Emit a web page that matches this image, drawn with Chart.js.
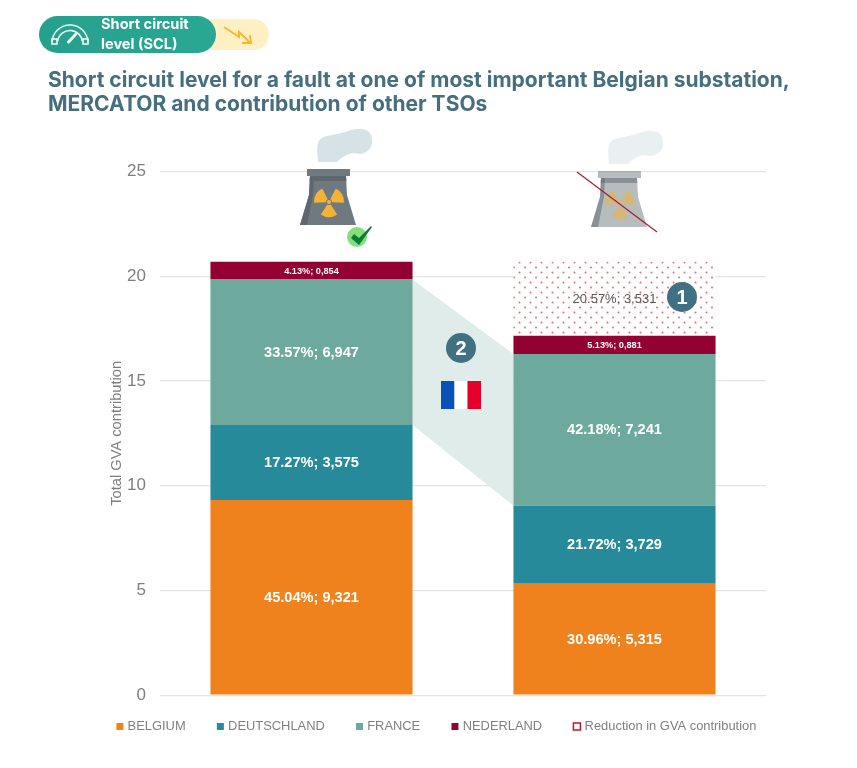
<!DOCTYPE html>
<html>
<head>
<meta charset="utf-8">
<style>html,body{margin:0;padding:0;background:#fff}canvas{display:block}</style>
<script src="https://cdn.jsdelivr.net/npm/chart.js@4/dist/chart.umd.min.js"></script>
</head>
<body>
<canvas id="c" width="857" height="768" style="width:857px;height:768px"></canvas>
<script>
const categories = ["With nuclear", "Without nuclear"];
const belgium = [9.321, 5.315];
const deutschland = [3.575, 3.729];
const france = [6.947, 7.241];
const nederland = [0.854, 0.881];
const reduction = [null, 3.531];
const belgiumPct = ["45.04", "30.96"];
const deutschlandPct = ["17.27", "21.72"];
const francePct = ["33.57", "42.18"];
const nederlandPct = ["4.13", "5.13"];
const reductionPct = [null, "20.57"];
const seriesNames = ["BELGIUM", "DEUTSCHLAND", "FRANCE", "NEDERLAND", "Reduction in GVA contribution"];
const yTicks = [0, 5, 10, 15, 20, 25];
const titleLines = ["Short circuit level for a fault at one of most important Belgian substation,", "MERCATOR and contribution of other TSOs"];

const GREY = "#7f7f7f";
const pctBySeries = [belgiumPct, deutschlandPct, francePct, nederlandPct, reductionPct];

function dotPattern() {
  const p = document.createElement("canvas");
  p.width = 11; p.height = 10;
  const x = p.getContext("2d");
  x.fillStyle = "#ffffff"; x.fillRect(0, 0, 11, 10);
  x.fillStyle = "#e06a80";
  [[2.5, 2.5], [8, 7.5]].forEach(d => { x.beginPath(); x.arc(d[0], d[1], 1.0, 0, 7); x.fill(); });
  return document.getElementById("c").getContext("2d").createPattern(p, "repeat");
}

function poly(ctx, pts, fill) {
  ctx.fillStyle = fill; ctx.beginPath();
  pts.forEach((p, i) => i ? ctx.lineTo(p[0], p[1]) : ctx.moveTo(p[0], p[1]));
  ctx.closePath(); ctx.fill();
}

function blob(ctx, pts, fill) {
  ctx.fillStyle = fill; ctx.beginPath();
  ctx.moveTo(pts[0][0], pts[0][1]);
  for (let i = 1; i < pts.length - 1; i++) {
    ctx.quadraticCurveTo(pts[i][0], pts[i][1], (pts[i][0] + pts[i + 1][0]) / 2, (pts[i][1] + pts[i + 1][1]) / 2);
  }
  ctx.lineTo(pts[pts.length - 1][0], pts[pts.length - 1][1]);
  ctx.closePath(); ctx.fill();
}

function drawPlant(ctx, dx, dy, alpha) {
  ctx.save(); ctx.translate(dx, dy); ctx.globalAlpha = alpha;
  // steam
  blob(ctx, [[318, 162], [316, 146], [321, 137], [333, 135], [345, 132], [358, 128], [371, 131], [373, 147], [362, 155], [353, 152], [342, 157], [337, 162]], "#d6e2e6");
  // tower
  poly(ctx, [[310, 176], [346, 176], [347, 195], [356, 225], [300, 225], [309, 195]], "#6f7a80");
  poly(ctx, [[310, 176], [314, 176], [313, 195], [307, 225], [300, 225], [309, 195]], "#5d676d");
  poly(ctx, [[310, 176], [346, 176], [346.5, 181], [309.5, 181]], "#5d676d");
  ctx.fillStyle = "#6f7a80"; ctx.fillRect(307, 169, 43, 7);
  // radiation sign
  const cx = 329, cy = 202;
  ctx.fillStyle = "#f5b335";
  [-150, -30, 90].forEach(a => {
    const r = a * Math.PI / 180, s = 0.58;
    ctx.beginPath(); ctx.moveTo(cx + 3 * Math.cos(r - s), cy + 3 * Math.sin(r - s));
    ctx.arc(cx, cy, 15, r - s, r + s);
    ctx.arc(cx, cy, 3, r + s, r - s, true); ctx.closePath(); ctx.fill();
  });
  ctx.beginPath(); ctx.arc(cx, cy, 2, 0, 7); ctx.fill();
  ctx.restore();
}

function drawBadge(ctx) {
  ctx.fillStyle = "#fff0c4";
  ctx.beginPath(); ctx.roundRect(190, 19, 79, 31, 15.5); ctx.fill();
  const g = ctx.createLinearGradient(39, 0, 216, 0);
  g.addColorStop(0, "#25a08d"); g.addColorStop(1, "#2aa893");
  ctx.fillStyle = g;
  ctx.beginPath(); ctx.roundRect(39, 16, 177, 37, 18.5); ctx.fill();
  // gauge icon
  ctx.strokeStyle = "#eef8f6"; ctx.lineWidth = 1.6;
  ctx.beginPath(); ctx.arc(70, 43, 18, Math.PI * 1.02, Math.PI * 1.98); ctx.stroke();
  ctx.beginPath(); ctx.arc(70, 43, 12.5, Math.PI * 1.05, Math.PI * 1.95); ctx.stroke();
  ctx.strokeRect(52, 39, 5, 5); ctx.strokeRect(83, 39, 5, 5);
  ctx.lineWidth = 3; ctx.lineCap = "round";
  ctx.beginPath(); ctx.moveTo(68.5, 42); ctx.lineTo(76.5, 33.5); ctx.stroke();
  ctx.lineCap = "butt";
  ctx.fillStyle = "#ffffff"; ctx.textAlign = "left"; ctx.textBaseline = "middle";
  ctx.font = "700 14.6px Inter, sans-serif";
  ctx.fillText("Short circuit", 101, 25);
  ctx.fillText("level (SCL)", 101, 45);
  // falling arrow
  ctx.strokeStyle = "#f9b62a"; ctx.lineWidth = 1.9;
  ctx.beginPath(); ctx.moveTo(224, 27); ctx.lineTo(239, 37); ctx.lineTo(239, 32); ctx.lineTo(250, 42.5); ctx.stroke();
  ctx.beginPath(); ctx.moveTo(242, 43); ctx.lineTo(251, 43); ctx.lineTo(250, 35); ctx.stroke();
}

function numberCircle(ctx, x, y, txt) {
  ctx.fillStyle = "#3f7182";
  ctx.beginPath(); ctx.arc(x, y, 15, 0, 7); ctx.fill();
  ctx.fillStyle = "#ffffff"; ctx.font = "700 20px 'Liberation Sans', sans-serif";
  ctx.textAlign = "center"; ctx.textBaseline = "middle";
  ctx.fillText(txt, x, y + 1);
}

const decorations = {
  id: "decorations",
  afterLayout(chart) {
    chart.legend.left += 30.5; chart.legend.right += 30.5;
    chart.legend.top -= 16.5; chart.legend.bottom -= 16.5;
    chart.titleBlock.right += 70;
  },
  beforeDatasetsDraw(chart) {
    const ctx = chart.ctx, y = chart.scales.y;
    const a = chart.getDatasetMeta(2).data[0], b = chart.getDatasetMeta(2).data[1];
    const aRight = a.x + a.width / 2, bLeft = b.x - b.width / 2;
    poly(ctx, [[aRight, y.getPixelForValue(belgium[0] + deutschland[0] + france[0])],
               [bLeft, y.getPixelForValue(belgium[1] + deutschland[1] + france[1])],
               [bLeft, y.getPixelForValue(belgium[1] + deutschland[1])],
               [aRight, y.getPixelForValue(belgium[0] + deutschland[0])]], "#e0ecea");
  },
  afterDatasetsDraw(chart) {
    const ctx = chart.ctx;
    ctx.save();
    // value labels
    ctx.textAlign = "center"; ctx.textBaseline = "middle";
    chart.data.datasets.forEach((ds, i) => {
      chart.getDatasetMeta(i).data.forEach((el, j) => {
        const v = ds.data[j];
        if (v == null) return;
        const txt = pctBySeries[i][j] + "%; " + v.toFixed(3).replace(".", ",");
        if (i === 4) { ctx.font = "13px 'Liberation Sans', sans-serif"; ctx.fillStyle = "#595959"; }
        else if (i === 3) { ctx.font = "700 9.2px 'Liberation Sans', sans-serif"; ctx.fillStyle = "#ffffff"; }
        else { ctx.font = "700 14.6px 'Liberation Sans', sans-serif"; ctx.fillStyle = "#ffffff"; }
        ctx.fillText(txt, el.x, (el.y + el.base) / 2 + 0.5);
      });
    });
    // plants
    drawPlant(ctx, 0, 0, 1);
    drawPlant(ctx, 291, 2, 0.5);
    ctx.strokeStyle = "#a01c2c"; ctx.lineWidth = 1.2;
    ctx.beginPath(); ctx.moveTo(577, 172); ctx.lineTo(657, 232); ctx.stroke();
    // check mark
    ctx.fillStyle = "#7fe07c"; ctx.beginPath(); ctx.arc(357, 237, 10, 0, 7); ctx.fill();
    poly(ctx, [[351, 238], [354, 234], [359, 238], [371, 226], [372, 227], [359, 245]], "#0b7a36");
    // callouts
    numberCircle(ctx, 682, 297, "1");
    numberCircle(ctx, 461, 348, "2");
    // flag
    ctx.fillStyle = "#0a50b8"; ctx.fillRect(441, 381, 13.5, 28);
    ctx.fillStyle = "#ffffff"; ctx.fillRect(454.5, 381, 13, 28);
    ctx.fillStyle = "#e4002b"; ctx.fillRect(467.5, 381, 13.5, 28);
    drawBadge(ctx);
    ctx.restore();
  }
};

const colors = ["#f0821e", "#278a9a", "#6daa9d", "#930032", dotPattern()];
const series = [belgium, deutschland, france, nederland, reduction];

new Chart(document.getElementById("c"), {
  type: "bar",
  plugins: [decorations],
  data: {
    labels: categories,
    datasets: series.map((d, i) => ({
      label: seriesNames[i], data: d, backgroundColor: colors[i],
      barPercentage: 1, categoryPercentage: 0.667, borderWidth: 0
    }))
  },
  options: {
    responsive: false,
    animation: false,
    devicePixelRatio: 1,
    layout: { padding: { left: 48, right: 91, top: 69, bottom: 8.5 } },
    plugins: {
      tooltip: { enabled: false },
      title: {
        display: true, text: titleLines, align: "start", color: "#456f7e",
        font: { family: "Inter, sans-serif", size: 21, weight: "700", lineHeight: 1.145 },
        padding: { top: 0, bottom: 54.5 }
      },
      legend: {
        position: "bottom",
        labels: {
          usePointStyle: true, pointStyle: "rect", boxWidth: 2.5, boxHeight: 7, padding: 33.5,
          color: GREY, font: { family: "'Liberation Sans', sans-serif", size: 12.9 },
          generateLabels(chart) {
            return Chart.defaults.plugins.legend.labels.generateLabels(chart).map((l, i) => {
              if (i === 4) { l.fillStyle = "#ffffff"; l.strokeStyle = "#c8102e"; l.lineWidth = 1.5; }
              else { l.lineWidth = 0; }
              return l;
            });
          }
        }
      }
    },
    scales: {
      x: { stacked: true, grid: { display: false }, border: { display: false }, ticks: { display: false } },
      y: {
        stacked: true, min: 0, max: 25,
        afterFit(s) { s.width = 112; },
        afterBuildTicks(s) { s.ticks = yTicks.map(v => ({ value: v })); },
        grid: { color: "#e4e4e4", lineWidth: 1.2, drawTicks: false },
        border: { display: false },
        ticks: { color: GREY, padding: 14, font: { family: "'Liberation Sans', sans-serif", size: 17 } },
        title: {
          display: true, text: "Total GVA contribution", color: GREY,
          font: { family: "'Liberation Sans', sans-serif", size: 14.7 },
          padding: { top: 60, bottom: 0 }
        }
      }
    }
  }
});
</script>
</body>
</html>
